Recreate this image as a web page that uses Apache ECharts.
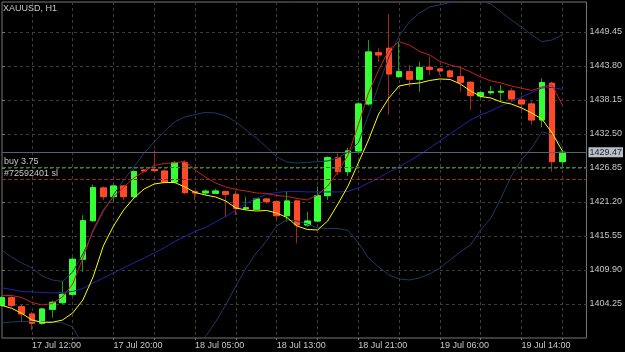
<!DOCTYPE html>
<html>
<head>
<meta charset="utf-8">
<script src="https://cdn.jsdelivr.net/npm/echarts@6/dist/echarts.min.js"></script>
<style>
html,body{margin:0;padding:0;background:#000;}
#chart{width:625px;height:352px;}
</style>
</head>
<body>
<div id="chart"></div>
<script>
// H1 bars, two empty slots on the right (chart shift)
var times = ['17 Jul 09:00','17 Jul 10:00','17 Jul 11:00','17 Jul 12:00','17 Jul 13:00','17 Jul 14:00','17 Jul 15:00','17 Jul 16:00',
  '17 Jul 17:00','17 Jul 18:00','17 Jul 19:00','17 Jul 20:00','17 Jul 21:00','17 Jul 22:00','17 Jul 23:00','18 Jul 01:00',
  '18 Jul 02:00','18 Jul 03:00','18 Jul 04:00','18 Jul 05:00','18 Jul 06:00','18 Jul 07:00','18 Jul 08:00','18 Jul 09:00',
  '18 Jul 10:00','18 Jul 11:00','18 Jul 12:00','18 Jul 13:00','18 Jul 14:00','18 Jul 15:00','18 Jul 16:00','18 Jul 17:00',
  '18 Jul 18:00','18 Jul 19:00','18 Jul 20:00','18 Jul 21:00','18 Jul 22:00','18 Jul 23:00','19 Jul 01:00','19 Jul 02:00',
  '19 Jul 03:00','19 Jul 04:00','19 Jul 05:00','19 Jul 06:00','19 Jul 07:00','19 Jul 08:00','19 Jul 09:00','19 Jul 10:00',
  '19 Jul 11:00','19 Jul 12:00','19 Jul 13:00','19 Jul 14:00','19 Jul 15:00','19 Jul 16:00','19 Jul 17:00','19 Jul 18:00',
  '19 Jul 19:00','19 Jul 20:00'];
var labelTimes = ['17 Jul 12:00','17 Jul 20:00','18 Jul 05:00','18 Jul 13:00','18 Jul 21:00','19 Jul 06:00','19 Jul 14:00'];

var opens = [1404.03,1405.30,1403.80,1402.59,1401.05,1403.37,1404.47,1405.86,1411.68,1418.09,1423.53,1422.08,1423.86,1422.08,
  1426.50,1426.60,1426.35,1424.52,1427.73,1422.90,1422.70,1422.65,1422.92,1422.48,1420.10,1419.99,1421.70,1421.25,1418.92,
  1421.37,1417.38,1418.04,1422.25,1428.56,1426.24,1429.68,1437.49,1446.01,1446.74,1442.02,1442.85,1441.59,1443.58,1443.30,
  1442.97,1442.02,1441.09,1438.82,1439.36,1439.45,1439.65,1438.15,1437.49,1434.83,1440.93,1427.90];
var closes = [1405.30,1404.03,1402.59,1401.05,1403.42,1404.53,1405.86,1411.68,1418.09,1423.58,1422.08,1423.86,1422.08,1426.24,
  1426.35,1426.40,1424.52,1427.73,1422.75,1422.70,1423.00,1423.03,1422.48,1420.15,1420.25,1421.70,1421.25,1418.92,1421.37,
  1417.38,1418.04,1422.25,1428.56,1426.24,1429.68,1437.49,1446.13,1445.63,1442.47,1442.85,1441.59,1443.52,1443.25,1442.97,
  1442.02,1441.09,1438.87,1439.36,1439.53,1439.60,1438.32,1437.49,1434.83,1441.03,1427.90,1429.47];
var lows = [1403.80,1403.70,1401.30,1399.90,1400.80,1402.00,1404.20,1405.60,1409.60,1417.90,1421.50,1421.20,1421.50,1421.90,
  1426.20,1426.20,1424.30,1424.30,1422.50,1421.50,1422.30,1422.50,1418.66,1419.04,1419.87,1419.80,1420.87,1418.21,1417.93,
  1414.34,1417.10,1417.80,1421.53,1425.69,1425.52,1429.40,1437.20,1444.52,1435.66,1441.80,1440.36,1439.53,1442.30,1442.30,
  1441.80,1439.53,1436.49,1438.40,1439.00,1437.87,1437.90,1436.49,1434.00,1433.62,1426.24,1426.80];
var highs = [1405.60,1405.60,1404.10,1402.90,1403.60,1404.80,1408.10,1412.00,1419.00,1424.10,1423.80,1424.10,1424.00,1426.50,
  1426.70,1429.80,1426.60,1428.00,1428.10,1423.10,1423.30,1423.41,1423.10,1423.03,1422.08,1421.90,1421.90,1421.40,1423.03,
  1421.50,1419.59,1423.75,1428.80,1429.29,1430.23,1437.80,1448.12,1446.74,1452.44,1447.84,1443.97,1444.52,1445.35,1443.50,
  1443.20,1443.69,1441.30,1439.70,1440.48,1440.65,1440.10,1438.70,1437.90,1441.76,1441.20,1429.80];

// indicator lines
var maFast = [1404.04,1403.54,1402.71,1401.59,1401.21,1401.21,1401.59,1402.76,1404.92,1408.74,1413.89,1417.21,1419.87,1421.86,
  1423.36,1424.19,1424.44,1424.44,1423.69,1422.78,1422.36,1422.03,1421.37,1420.20,1419.87,1419.70,1419.79,1419.37,1418.62,
  1417.21,1416.63,1416.55,1418.04,1420.87,1423.86,1427.68,1431.50,1435.82,1438.48,1440.48,1440.81,1440.98,1441.39,1441.64,
  1441.56,1440.81,1439.65,1438.73,1438.48,1437.82,1437.48,1436.82,1435.99,1434.99,1432.67,1429.67];
var maSlow = [1405.63,1405.66,1405.33,1404.50,1404.09,1404.34,1405.42,1407.58,1411.90,1416.55,1419.87,1422.03,1423.69,1425.19,
  1426.27,1427.27,1427.60,1427.73,1427.93,1426.52,1425.36,1424.36,1423.69,1423.28,1423.03,1422.70,1422.62,1422.28,1422.12,
  1421.79,1421.54,1422.37,1423.86,1426.19,1429.01,1434.00,1439.32,1443.14,1446.46,1447.84,1447.29,1446.21,1445.63,1444.55,
  1443.97,1443.55,1442.81,1441.97,1441.31,1440.98,1440.48,1440.10,1439.73,1440.31,1440.64,1437.32];
var bbMid = [1406.96,1406.66,1406.33,1406.25,1406.17,1406.08,1406.17,1406.33,1406.83,1407.74,1408.57,1409.41,1410.24,1411.07,
  1411.90,1412.73,1413.64,1414.64,1415.47,1416.30,1416.97,1417.88,1418.79,1419.87,1420.95,1421.79,1422.45,1422.78,1422.95,
  1422.95,1422.87,1422.87,1422.87,1422.87,1422.95,1423.53,1424.36,1425.19,1426.19,1427.02,1428.02,1429.01,1430.18,1431.34,
  1432.50,1433.67,1434.83,1435.66,1436.33,1437.16,1437.90,1438.65,1439.40,1440.15,1440.23,1439.90];
var bbUp = [1413.23,1412.06,1411.07,1410.24,1408.91,1408.24,1407.99,1409.57,1412.56,1416.22,1419.54,1422.37,1424.86,1427.02,
  1429.35,1431.17,1433.00,1434.50,1435.33,1435.74,1436.08,1435.99,1435.49,1434.50,1433.17,1431.84,1430.34,1428.68,1427.85,
  1427.68,1427.77,1427.90,1428.02,1428.52,1429.51,1431.01,1435.66,1440.64,1445.30,1448.79,1451.11,1452.61,1453.61,1453.94,
  1454.35,1454.60,1454.77,1454.60,1454.10,1452.77,1451.44,1450.28,1448.95,1447.84,1448.12,1448.95];
var bbLow = [1401.10,1401.26,1401.35,1401.35,1401.31,1401.26,1401.10,1400.43,1397.44,1394.12,1391.63,1389.96,1389.13,1388.63,
  1388.63,1389.13,1390.30,1391.96,1394.12,1396.61,1398.77,1401.26,1404.09,1407.25,1410.24,1412.73,1414.72,1417.21,1418.21,
  1418.04,1417.54,1416.88,1416.80,1416.80,1416.47,1414.39,1411.90,1410.40,1409.07,1408.41,1408.24,1408.57,1409.24,1410.24,
  1411.57,1412.90,1414.06,1416.55,1418.54,1421.87,1425.52,1428.18,1430.18,1432.84,1432.50,1430.51];

var priceTicks = [1404.25,1409.90,1415.55,1421.20,1426.85,1432.50,1438.15,1443.80,1449.45];
var priceMin = 1398.60, priceMax = 1454.43;
var bidPrice = 1429.47, buyPrice = 1426.93, slPrice = 1424.97;

var textColor = '#c8c8c8';
var font = 'Liberation Sans';

var candles = times.map(function (t, i) {
  if (i >= opens.length) return '-';
  return [opens[i], closes[i], lows[i], highs[i]];
});
// bodies only, painted over the thin wicks
var bodies = times.map(function (t, i) {
  if (i >= opens.length) return '-';
  return [opens[i], closes[i], Math.min(opens[i], closes[i]), Math.max(opens[i], closes[i])];
});

function everyFourth(i) { return (i - 3) % 4 === 0; }

var chart = echarts.init(document.getElementById('chart'));
chart.setOption({
  backgroundColor: '#000000',
  animation: false,
  title: {
    text: 'XAUUSD, H1', left: 3, top: 4, padding: 0,
    textStyle: {color: textColor, fontSize: 9, fontWeight: 'normal', fontFamily: font}
  },
  grid: [
    {left: 2, top: 2, width: 586, height: 336, show: true, borderColor: '#777', borderWidth: 1, backgroundColor: 'transparent'},
    {left: 1.3, top: 2, width: 581.4, height: 336}
  ],
  xAxis: [
    {gridIndex: 0, type: 'value', min: 0, max: 1, show: false},
    {
      gridIndex: 1, type: 'category', data: times, boundaryGap: false,
      axisLine: {show: false},
      axisTick: {show: true, interval: everyFourth, length: 2, lineStyle: {color: '#777'}},
      axisLabel: {
        interval: function (i, v) { return labelTimes.indexOf(v) >= 0; },
        align: 'left', margin: 3, color: textColor, fontSize: 9, fontFamily: font
      },
      splitLine: {show: true, interval: everyFourth, lineStyle: {color: '#3d3d3d', type: [3, 3], width: 1}}
    }
  ],
  yAxis: [
    {
      gridIndex: 0, type: 'value', position: 'right', min: priceMin, max: priceMax,
      axisLine: {show: false},
      axisTick: {show: true, length: 3, customValues: priceTicks, lineStyle: {color: '#777'}},
      axisLabel: {customValues: priceTicks, margin: 3, color: textColor, fontSize: 9, fontFamily: font,
        formatter: function (v) { return v.toFixed(2); }},
      splitLine: {show: true, lineStyle: {color: '#3d3d3d', type: [3, 3], width: 1}}
    },
    {gridIndex: 1, type: 'value', min: priceMin, max: priceMax, show: false, splitLine: {show: false}}
  ],
  series: [
    {
      name: 'levels', type: 'line', xAxisIndex: 0, yAxisIndex: 0, data: [], silent: true,
      markLine: {
        silent: true, symbol: ['none', 'none'], animation: false,
        data: [
          {yAxis: buyPrice, lineStyle: {color: '#2a8c2a', type: 'dashed', width: 1, opacity: 1},
            label: {show: true, position: 'insideStartTop', distance: [2, 1], formatter: 'buy 3.75',
              color: textColor, fontSize: 9, fontFamily: font}},
          {yAxis: slPrice, lineStyle: {color: '#a02222', type: 'dashed', width: 1, opacity: 1},
            label: {show: true, position: 'insideStartTop', distance: [2, 1], formatter: '#72592401 sl',
              color: textColor, fontSize: 9, fontFamily: font}},
          {yAxis: bidPrice, lineStyle: {color: '#59626e', type: 'solid', width: 1, opacity: 1},
            label: {show: true, position: 'end', distance: 2,
              formatter: function (p) { return p.value.toFixed(2); },
              backgroundColor: '#b9c0c9', color: '#1c2430', padding: [1, 1, 0, 1], fontSize: 9, fontFamily: font}}
        ]
      }
    },
    {name: 'bbUp', type: 'line', xAxisIndex: 1, yAxisIndex: 1, data: bbUp, symbol: 'none',
      lineStyle: {color: '#1a3c64', width: 1}},
    {name: 'bbLow', type: 'line', xAxisIndex: 1, yAxisIndex: 1, data: bbLow, symbol: 'none',
      lineStyle: {color: '#1a3c64', width: 1}},
    {name: 'bbMid', type: 'line', xAxisIndex: 1, yAxisIndex: 1, data: bbMid, symbol: 'none',
      lineStyle: {color: '#2323a8', width: 1}},
    {name: 'wicks', type: 'candlestick', xAxisIndex: 1, yAxisIndex: 1, data: candles, barWidth: 6,
      itemStyle: {color: '#33ff33', color0: '#ff4a2a', borderColor: '#1e9a1e', borderColor0: '#a0281a', borderWidth: 1}},
    {name: 'bodies', type: 'candlestick', xAxisIndex: 1, yAxisIndex: 1, data: bodies, barWidth: 6,
      itemStyle: {color: '#33ff33', color0: '#ff4a2a', borderColor: '#33ff33', borderColor0: '#ff4a2a', borderWidth: 1}},
    {name: 'maSlow', type: 'line', xAxisIndex: 1, yAxisIndex: 1, data: maSlow, symbol: 'none',
      lineStyle: {color: '#c81e1e', width: 1}},
    {name: 'maFast', type: 'line', xAxisIndex: 1, yAxisIndex: 1, data: maFast, symbol: 'none',
      lineStyle: {color: '#ffff00', width: 1}}
  ]
});
</script>
</body>
</html>
